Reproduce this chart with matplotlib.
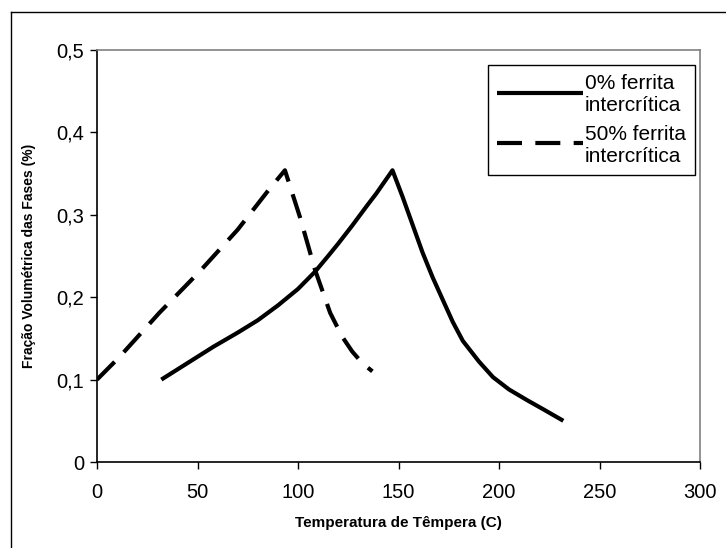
import matplotlib
matplotlib.use("Agg")
import matplotlib.pyplot as plt
from matplotlib.lines import Line2D
from matplotlib.ticker import FuncFormatter
from matplotlib.legend_handler import HandlerLine2D

plt.rcParams['font.family'] = ['Liberation Sans', 'DejaVu Sans']

# Data
temp_0 = [32, 45, 58, 70, 80, 90, 100, 108.5, 115, 120, 127, 134, 139, 143, 147,
          152, 157, 162, 167, 172, 177, 182, 190, 197, 205, 214, 222, 232]
frac_0 = [0.10, 0.12, 0.14, 0.157, 0.172, 0.19, 0.21, 0.231, 0.25, 0.265, 0.287, 0.31, 0.326, 0.34, 0.354,
          0.322, 0.288, 0.254, 0.224, 0.197, 0.17, 0.147, 0.122, 0.103, 0.088, 0.075, 0.064, 0.05]

temp_50 = [0, 11, 31, 51, 70, 86, 93.5, 101, 108.5, 116, 122, 127, 132, 137]
frac_50 = [0.10, 0.127, 0.181, 0.231, 0.282, 0.332, 0.354, 0.297, 0.233, 0.181, 0.152, 0.134, 0.12, 0.11]

label_0 = "0% ferrita\nintercrítica"
label_50 = "50% ferrita\nintercrítica"

xticks = [0, 50, 100, 150, 200, 250, 300]
yticks = [0, 0.1, 0.2, 0.3, 0.4, 0.5]


class TopLineHandler(HandlerLine2D):
    def create_artists(self, legend, orig_handle, xdescent, ydescent, width, height, fontsize, trans):
        return super().create_artists(legend, orig_handle, xdescent, ydescent - height * 0.27,
                                      width, height, fontsize, trans)


W, H = 726, 548
fig = plt.figure(figsize=(W / 100, H / 100), dpi=100)
ax = fig.add_axes([97 / W, 1 - 462 / H, (700 - 97) / W, (462 - 50) / H])

l0, = ax.plot(temp_0, frac_0, color='black', lw=3, solid_capstyle='butt', solid_joinstyle='round', label=label_0)
l50, = ax.plot(temp_50, frac_50, color='black', lw=3, linestyle=(0, (6, 3.2)), dash_capstyle='butt', label=label_50)

ax.set_xlim(0, 300)
ax.set_ylim(0, 0.5)
ax.set_xticks(xticks)
ax.set_yticks(yticks)
ax.yaxis.set_major_formatter(FuncFormatter(lambda v, p: ('%g' % round(v, 2)).replace('.', ',')))
ax.tick_params(axis='both', direction='out', length=5, width=1, labelsize=14.5, color='black')
ax.tick_params(axis='x', pad=10)
ax.tick_params(axis='y', pad=4)

for s in ['top', 'right']:
    ax.spines[s].set_color('#808080')
    ax.spines[s].set_linewidth(1.2)
for s in ['left', 'bottom']:
    ax.spines[s].set_color('black')
    ax.spines[s].set_linewidth(1.2)

ax.set_xlabel("Temperatura de Têmpera (C)", fontsize=11, fontweight='bold', labelpad=10)
ax.set_ylabel("Fração Volumétrica das Fases (%)", fontsize=10, fontweight='bold', labelpad=15)

leg = ax.legend(loc='upper right', bbox_to_anchor=(695 / W, 1 - 65 / H), bbox_transform=fig.transFigure,
                fontsize=15, frameon=True, fancybox=False, edgecolor='black', framealpha=1,
                handlelength=4.1, handletextpad=0.1, borderpad=0.45, labelspacing=0.45,
                borderaxespad=0, handler_map={Line2D: TopLineHandler()})
leg.get_frame().set_linewidth(1)
for t in leg.get_texts():
    t.set_linespacing(1.2)

# outer chart border (left and top)
fig.add_artist(Line2D([11 / W, 11 / W], [0, 1 - 12 / H], color='black', lw=1))
fig.add_artist(Line2D([11 / W, 1], [1 - 12 / H, 1 - 12 / H], color='black', lw=1))

fig.savefig("out.png", dpi=100)
